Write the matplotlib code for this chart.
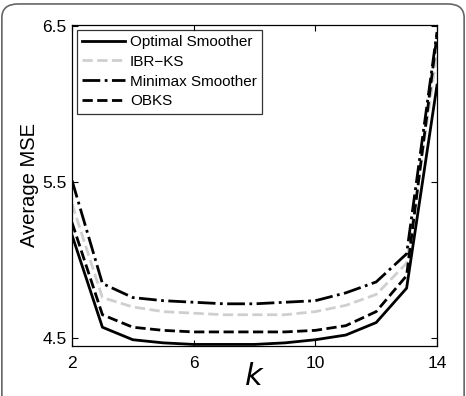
import matplotlib.pyplot as plt
from matplotlib.patches import FancyBboxPatch

k = [2, 3, 4, 5, 6, 7, 8, 9, 10, 11, 12, 13, 14]
optimal = [5.16, 4.57, 4.49, 4.47, 4.46, 4.46, 4.46, 4.47, 4.49, 4.52, 4.60, 4.82, 6.12]
ibr_ks = [5.36, 4.76, 4.70, 4.67, 4.66, 4.65, 4.65, 4.65, 4.67, 4.71, 4.78, 4.98, 6.33]
minimax = [5.51, 4.85, 4.76, 4.74, 4.73, 4.72, 4.72, 4.73, 4.74, 4.79, 4.86, 5.04, 6.46]
obks = [5.24, 4.65, 4.57, 4.55, 4.54, 4.54, 4.54, 4.54, 4.55, 4.58, 4.67, 4.90, 6.44]

plt.rcParams['font.family'] = ['Liberation Sans', 'DejaVu Sans']

fig = plt.figure(figsize=(4.66, 3.96), dpi=100)
# rounded frame around the whole picture (bottom edge is cut off)
frame = FancyBboxPatch((0.004, -0.2), 0.992, 1.19, boxstyle="round,pad=0,rounding_size=0.035",
                       transform=fig.transFigure, fill=False, edgecolor='#666666', linewidth=1.2)
fig.patches.append(frame)

ax = fig.add_axes([0.1545, 0.1263, 0.7833, 0.8106])
ax.plot(k, optimal, color='black', linestyle='-', linewidth=2, label='Optimal Smoother')
ax.plot(k, ibr_ks, color='#cfcfcf', linestyle='--', linewidth=2, label='IBR\u2212KS')
ax.plot(k, minimax, color='black', linestyle='-.', linewidth=2, label='Minimax Smoother')
ax.plot(k, obks, color='black', linestyle='--', linewidth=2, label='OBKS')

ax.set_xlim(2, 14)
ax.set_ylim(4.45, 6.505)
ax.set_xticks([2, 6, 10, 14])
ax.set_yticks([4.5, 5.5, 6.5])
ax.set_yticklabels(['4.5', '5.5', '6.5'])
ax.tick_params(direction='in', top=True, right=True, labelsize=12.5, length=4, width=0.8)
ax.tick_params(axis='x', pad=7)
ax.tick_params(axis='y', pad=4)
for s in ax.spines.values():
    s.set_linewidth(0.9)

ax.set_ylabel('Average MSE', fontsize=14.5, labelpad=2)
ax.set_xlabel('$k$', fontsize=22, labelpad=-6)

leg = ax.legend(loc='upper left', fontsize=11, frameon=True, fancybox=False,
                edgecolor='black', borderpad=0.35, labelspacing=0.38, handlelength=2.8,
                handletextpad=0.35, borderaxespad=0.3)
leg.get_frame().set_linewidth(0.9)

fig.savefig('out.png', dpi=100)
